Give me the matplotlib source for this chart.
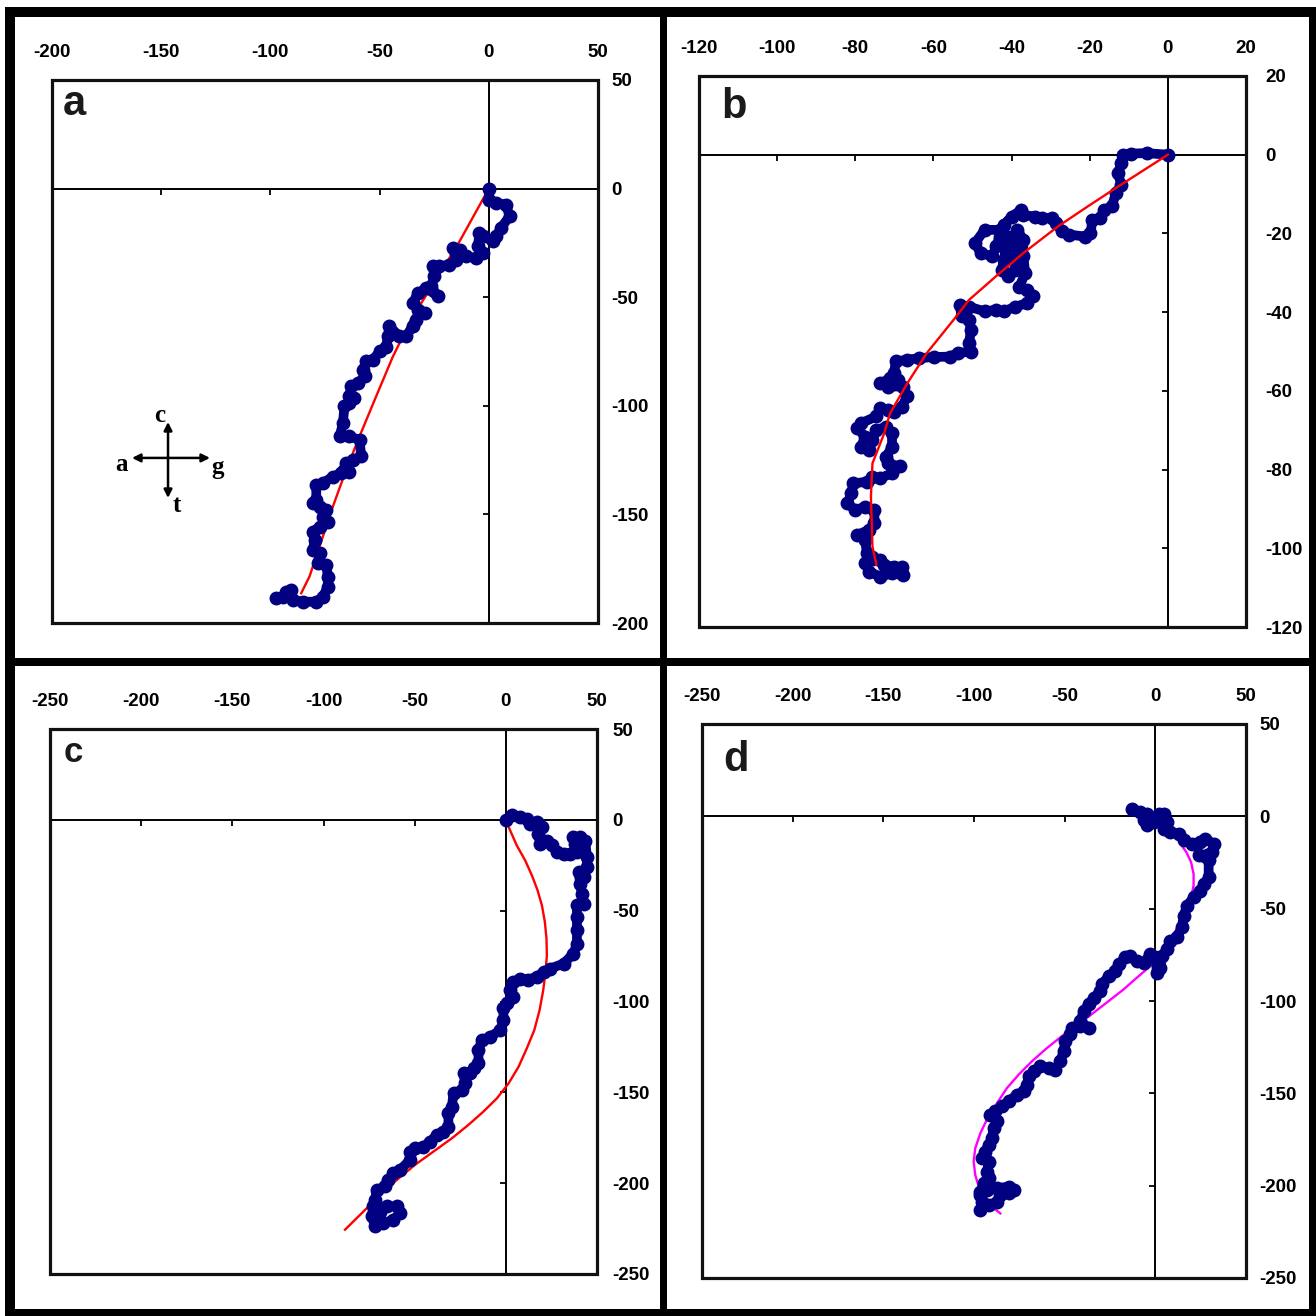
import matplotlib.pyplot as plt
from matplotlib.patches import Rectangle
from matplotlib.ticker import MultipleLocator

plt.rcParams["font.family"] = ["Liberation Sans", "DejaVu Sans"]
plt.rcParams["font.weight"] = "bold"
plt.rcParams["axes.unicode_minus"] = False

W = H = 1316
NAVY = "#000080"

# panel a: walk (x, y) and fitted curve
a_walk = [
    (0, 0), (0.3, -5.1), (3.4, -6.6), (7.9, -7.4), (9.5, -12.7), (5.6, -18.1),
    (3.4, -22.0), (1.8, -24.3), (-2.7, -22.0), (-4.3, -20.4), (-5.0, -26.6),
    (-2.7, -29.6), (-5.8, -32.0), (-10.4, -31.2), (-13.4, -28.1), (-16.5, -27.3),
    (-15.0, -32.7), (-18.0, -35.0), (-22.6, -35.8), (-25.6, -35.8), (-24.9, -40.4),
    (-26.4, -45.0), (-23.3, -49.6), (-28.7, -45.8), (-32.5, -48.1), (-34.8, -52.7),
    (-32.5, -55.8), (-29.4, -57.3), (-33.3, -60.4), (-34.8, -63.4), (-37.8, -68.0),
    (-40.9, -68.0), (-45.5, -63.4), (-46.2, -68.0), (-47.0, -72.7), (-50.0, -75.0),
    (-53.1, -78.8), (-56.1, -79.6), (-57.7, -83.4), (-56.9, -86.5), (-60.0, -89.6),
    (-63.0, -91.1), (-63.8, -95.7), (-61.5, -96.5), (-63.8, -98.8), (-66.1, -100.3),
    (-66.8, -108.0), (-68.3, -114.1), (-63.8, -114.1), (-59.2, -115.7), (-58.4, -123.3),
    (-62.2, -124.9), (-65.3, -126.4), (-66.1, -129.5), (-63.8, -130.3), (-67.6, -131.0),
    (-71.4, -132.6), (-76.0, -135.6), (-79.0, -136.4), (-79.0, -143.3), (-80.5, -144.9),
    (-77.5, -146.4), (-74.4, -147.9), (-76.0, -151.0), (-73.7, -153.3), (-77.5, -155.6),
    (-80.5, -157.9), (-79.8, -161.8), (-80.5, -166.4), (-77.5, -167.9), (-78.3, -172.5),
    (-74.4, -173.3), (-73.7, -178.6), (-73.7, -183.3), (-76.0, -187.9), (-79.0, -190.2),
    (-85.1, -190.2), (-89.7, -189.4), (-90.5, -184.8), (-92.8, -185.6), (-94.3, -187.9),
    (-97.3, -188.6),
]
a_fit = [
    (0, 0), (-13.4, -24.3), (-24.1, -41.9), (-34.8, -58.8), (-43.9, -77.3),
    (-51.6, -95.7), (-59.2, -114.1), (-65.3, -129.5), (-71.4, -146.4),
    (-77.5, -164.8), (-82.1, -178.6), (-85.9, -186.3),
]

# panel b
b_walk = [
    (0, 0), (-5.4, 0.4), (-9.4, 0.3), (-11.4, 0), (-11.9, -2.1), (-12.8, -4.7),
    (-11.9, -7.6), (-13.3, -9.7), (-14.3, -13.1), (-16.3, -14.0), (-17.3, -16.1),
    (-19.3, -16.5), (-19.8, -19.9), (-21.2, -20.8), (-25.2, -20.3), (-27.2, -19.5),
    (-28.6, -17.4), (-29.6, -16.1), (-32.1, -16.1), (-34.1, -15.7), (-37.0, -15.3),
    (-37.5, -14.0), (-40.0, -15.7), (-42.0, -17.8), (-43.0, -19.1), (-46.9, -19.1),
    (-49.4, -22.5), (-47.9, -25.0), (-44.9, -25.8), (-44.0, -23.3), (-43.0, -20.8),
    (-41.0, -20.8), (-41.5, -24.2), (-42.0, -26.7), (-42.5, -29.2), (-41.0, -30.9),
    (-39.0, -29.2), (-39.0, -25.8), (-39.5, -22.5), (-38.5, -19.1), (-37.0, -21.6),
    (-37.0, -25.8), (-36.5, -30.1), (-38.0, -33.5), (-36.0, -34.3), (-34.6, -36.0),
    (-36.0, -37.7), (-39.0, -38.6), (-42.0, -39.8), (-44.0, -39.4), (-46.9, -39.8),
    (-50.9, -38.6), (-53.3, -38.1), (-52.8, -41.1), (-50.9, -41.9), (-50.4, -44.5),
    (-50.9, -47.9), (-50.4, -50.0), (-53.8, -50.4), (-55.8, -51.3), (-59.8, -51.4),
    (-63.7, -51.7), (-66.7, -52.1), (-69.6, -52.5), (-70.1, -55.5), (-69.1, -57.2),
    (-71.1, -56.8), (-73.6, -58.1), (-71.6, -58.9), (-67.7, -58.9), (-66.7, -61.4),
    (-68.1, -64.0), (-70.1, -65.3), (-71.6, -64.8), (-73.6, -64.4), (-74.6, -66.5),
    (-78.5, -68.2), (-79.5, -69.5), (-77.5, -71.6), (-78.5, -74.2), (-76.5, -75.0),
    (-75.6, -72.5), (-74.6, -69.9), (-72.1, -69.1), (-70.6, -70.8), (-70.6, -74.2),
    (-72.1, -76.7), (-71.6, -78.4), (-68.6, -79.2), (-70.6, -80.9), (-73.6, -82.2),
    (-75.6, -81.8), (-77.0, -83.1), (-80.5, -83.5), (-81.0, -86.0), (-82.0, -88.6),
    (-80.0, -90.3), (-77.5, -89.4), (-75.1, -90.3), (-75.1, -93.6), (-76.5, -95.3),
    (-79.5, -96.6), (-77.5, -97.9), (-77.0, -101.3), (-75.6, -102.1), (-73.6, -103.0),
    (-77.5, -103.8), (-76.5, -105.9), (-73.6, -107.2), (-70.6, -106.4), (-67.7, -106.8),
    (-68.1, -104.7), (-70.1, -104.7), (-72.6, -104.2),
]
b_fit = [
    (0, 0), (-7.4, -4.7), (-14.3, -9.1), (-21.2, -13.6), (-28.1, -18.2),
    (-37.0, -25.0), (-44.0, -30.9), (-50.9, -36.9), (-54.8, -41.9), (-61.7, -50.4),
    (-66.7, -58.1), (-71.1, -65.7), (-72.6, -70.8), (-75.6, -78.4), (-76.0, -86.9),
    (-75.6, -99.6), (-74.6, -104.2),
]

# panel c
c_walk = [
    (0, 0), (3.3, 2.4), (7.9, 1.8), (11.5, 0.5), (13.4, -2.2), (17.0, -1.3),
    (19.8, -4.0), (17.9, -7.7), (18.8, -13.2), (22.5, -11.4), (25.2, -14.1),
    (28.0, -17.8), (31.7, -18.7), (35.3, -18.7), (39.0, -17.8), (38.1, -13.2),
    (37.1, -9.5), (40.8, -9.5), (43.5, -11.4), (44.5, -20.5), (44.5, -26.0),
    (42.6, -31.5), (39.9, -28.8), (40.8, -35.2), (41.7, -40.7), (42.6, -46.2),
    (39.0, -47.1), (39.0, -53.5), (39.0, -60.8), (39.0, -68.1), (37.1, -73.6),
    (31.7, -79.1), (24.3, -81.9), (20.7, -83.7), (17.0, -86.4), (12.4, -87.9),
    (7.9, -87.4), (4.2, -89.2), (2.4, -93.8), (4.2, -97.4), (0.5, -101.1),
    (-1.3, -103.8), (-1.3, -110.3), (-3.1, -115.8), (-8.6, -119.4), (-13.2, -121.2),
    (-15.0, -126.7), (-15.0, -134.1), (-17.7, -136.8), (-19.6, -139.6), (-23.2, -139.6),
    (-22.3, -145.1), (-24.1, -148.7), (-28.7, -150.5), (-29.6, -157.9), (-31.5, -161.5),
    (-31.5, -168.9), (-34.2, -171.6), (-37.9, -173.4), (-41.5, -177.1), (-45.2, -179.9),
    (-49.8, -180.8), (-52.5, -182.6), (-52.5, -187.2), (-58.0, -192.7), (-61.7, -194.5),
    (-64.4, -198.2), (-66.2, -201.8), (-70.8, -203.7), (-71.7, -209.2), (-72.6, -212.8),
    (-73.5, -218.3), (-71.7, -223.8), (-67.1, -222.0), (-61.7, -220.1), (-58.0, -216.5),
    (-59.8, -212.8), (-65.3, -212.8), (-69.0, -215.6), (-71.7, -212.8),
]
c_fit = [
    (-0.9, 1.8), (2.4, -5.9), (6.0, -14.1), (10.6, -22.3), (14.3, -30.6),
    (17.4, -38.8), (19.8, -47.1), (21.4, -56.2), (22.3, -65.4), (22.5, -74.5),
    (21.8, -83.7), (20.5, -93.8), (18.5, -104.8), (15.6, -115.8), (11.5, -125.8),
    (7.0, -135.9), (1.5, -145.1), (-4.9, -153.3), (-12.3, -160.6), (-20.5, -167.9),
    (-29.6, -175.3), (-39.7, -182.6), (-49.8, -189.9), (-59.8, -198.2),
    (-69.0, -206.4), (-78.1, -215.6), (-88.2, -225.6),
]

# panel d
d_walk = [
    (-12.9, 4.2), (-8.3, 2.4), (-4.6, 1.4), (-6.4, -2.2), (-4.6, -4.9), (-0.9, -3.1),
    (1.8, 1.4), (4.6, 1.4), (6.4, -3.1), (4.6, -6.7), (8.3, -8.5), (12.9, -9.4),
    (15.6, -13.0), (20.2, -14.9), (24.8, -13.9), (27.6, -12.1), (32.2, -14.9),
    (31.3, -19.4), (28.5, -21.2), (23.9, -21.2), (29.4, -23.9), (29.4, -33.0),
    (26.7, -36.6), (24.8, -40.2), (21.1, -43.8), (17.5, -48.4), (15.6, -53.8),
    (14.7, -60.1), (11.9, -65.6), (8.3, -67.4), (6.4, -71.9), (3.7, -75.5),
    (2.8, -81.9), (0.9, -84.6), (0, -76.4), (-2.8, -74.6), (-6.4, -79.2),
    (-10.1, -78.3), (-13.8, -75.5), (-16.5, -76.4), (-20.2, -80.1), (-22.1, -83.7),
    (-25.7, -86.4), (-29.4, -90.9), (-30.3, -94.6), (-34.0, -98.2), (-36.8, -101.8),
    (-39.5, -105.4), (-41.4, -110.9), (-36.8, -114.5), (-41.4, -113.6), (-46.0, -114.5),
    (-46.9, -118.1), (-49.6, -121.7), (-50.6, -127.2), (-52.4, -132.6), (-55.1, -137.1),
    (-58.8, -136.2), (-63.4, -135.3), (-67.1, -138.0), (-69.9, -140.8), (-70.8, -145.3),
    (-72.6, -148.9), (-76.3, -150.7), (-80.9, -154.3), (-84.6, -157.1), (-88.2, -159.8),
    (-91.0, -161.6), (-87.3, -165.2), (-89.2, -168.8), (-90.1, -174.3), (-91.9, -177.9),
    (-93.8, -181.5), (-95.6, -185.1), (-91.9, -187.0), (-92.8, -192.4), (-91.9, -196.0),
    (-94.7, -198.7), (-96.5, -203.3), (-95.6, -208.7), (-96.5, -213.2), (-91.9, -210.5),
    (-87.3, -208.7), (-85.5, -205.1), (-80.9, -204.2), (-78.1, -202.4), (-80.9, -200.5),
    (-87.3, -201.4), (-92.8, -202.4), (-96.5, -205.1),
]
d_fit = [
    (13.8, -14.9), (17.1, -19.4), (19.7, -24.8), (21.1, -31.2), (21.1, -37.5),
    (19.7, -43.8), (17.1, -50.2), (13.8, -57.4), (10.1, -63.8), (6.1, -70.1),
    (1.8, -76.4), (-3.7, -81.9), (-10.1, -87.3), (-17.5, -93.7), (-25.7, -100.0),
    (-34.0, -106.3), (-42.3, -112.7), (-51.5, -119.0), (-59.7, -125.4), (-68.0, -132.6),
    (-75.4, -139.9), (-81.8, -147.1), (-87.3, -155.3), (-92.5, -163.4), (-96.5, -171.6),
    (-99.3, -179.7), (-100.2, -187.0), (-99.3, -194.2), (-97.4, -200.5), (-94.7, -206.0),
    (-90.1, -211.4), (-85.5, -215.0),
]

panels = [
    # letter, walk, fit, fit colour, limits, step, box in px, letter offset/size, ypad, fit on top
    ("a", a_walk, a_fit, "#ff0000", (-200, 50), 50, (52, 80, 598, 623), (8, -25, 30), 5.5, False),
    ("b", b_walk, b_fit, "#ff0000", (-120, 20), 20, (699, 76, 1246, 627), (16, -30, 30), 9.5, True),
    ("c", c_walk, c_fit, "#ff0000", (-250, 50), 50, (50, 729, 597, 1274), (10, -24, 25), 6.5, False),
    ("d", d_walk, d_fit, "#ff00ff", (-250, 50), 50, (702, 724, 1246, 1278), (15, -34, 30), 5.5, False),
]


def px_rect(x0, y0, x1, y1):
    return [x0 / W, 1 - y1 / H, (x1 - x0) / W, (y1 - y0) / H]


fig = plt.figure(figsize=(W / 100, H / 100), dpi=100)

for letter, walk, fit, fit_color, lim, step, box, lab, ypad, fit_on_top in panels:
    ax = fig.add_axes(px_rect(*box))
    ax.set_xlim(lim)
    ax.set_ylim(lim)
    ax.xaxis.set_major_locator(MultipleLocator(step))
    ax.yaxis.set_major_locator(MultipleLocator(step))
    # axis lines cross at the origin, tick labels sit outside the box
    ax.spines["bottom"].set_position(("data", 0))
    ax.spines["left"].set_position(("data", 0))
    for s in ("bottom", "left"):
        ax.spines[s].set_linewidth(1.4)
    for s in ("top", "right"):
        ax.spines[s].set_visible(False)
    ax.add_patch(Rectangle((0, 0), 1, 1, transform=ax.transAxes, fill=False,
                           lw=2.3, ec="#111111", clip_on=False, zorder=6))
    ax.tick_params(axis="x", bottom=True, top=False, labelbottom=False,
                   labeltop=True, direction="out", length=4.3, width=1.3,
                   pad=9.5, labelsize=13.5)
    ax.tick_params(axis="y", left=True, right=False, labelleft=False,
                   labelright=True, direction="out", length=4.3, width=1.3,
                   pad=ypad, labelsize=13.5)

    wx = [p[0] for p in walk]
    wy = [p[1] for p in walk]
    fx = [p[0] for p in fit]
    fy = [p[1] for p in fit]
    ax.plot(wx, wy, color=NAVY, lw=7, marker="o", ms=9,
            solid_joinstyle="round", solid_capstyle="round", zorder=4)
    ax.plot(fx, fy, color=fit_color, lw=1.7, zorder=5 if fit_on_top else 3,
            solid_joinstyle="round")

    dx, dy, size = lab
    ax.annotate(letter, xy=(0, 1), xycoords="axes fraction", xytext=(dx, dy),
                textcoords="offset points", ha="left", va="baseline",
                fontsize=size, color="#1a1a1a")

    if letter == "a":
        arrow = dict(arrowstyle="<|-|>", lw=1.8, color="black",
                     mutation_scale=12, shrinkA=0, shrinkB=0)
        ax.annotate("", xy=(0.1465, 0.304), xytext=(0.2894, 0.304),
                    xycoords="axes fraction", arrowprops=arrow)
        ax.annotate("", xy=(0.2125, 0.3702), xytext=(0.2125, 0.2302),
                    xycoords="axes fraction", arrowprops=arrow)
        serif = ["Liberation Serif", "DejaVu Serif"]
        for txt, tx, ty in [("c", 0.198, 0.383), ("a", 0.128, 0.291),
                            ("g", 0.304, 0.287), ("t", 0.229, 0.217)]:
            ax.text(tx, ty, txt, transform=ax.transAxes, ha="center",
                    va="center", fontsize=18, family=serif)

# panel borders
for x0, y0, x1, y1 in [(5, 7, 15, 1316), (5, 7, 1316, 17), (1309, 7, 1316, 1316),
                       (5, 1309, 1316, 1316), (660, 7, 667, 1316), (5, 658, 1316, 666)]:
    fig.add_artist(Rectangle((x0 / W, 1 - y1 / H), (x1 - x0) / W, (y1 - y0) / H,
                             transform=fig.transFigure, color="black", lw=0))

fig.savefig("out.png", dpi=100)
